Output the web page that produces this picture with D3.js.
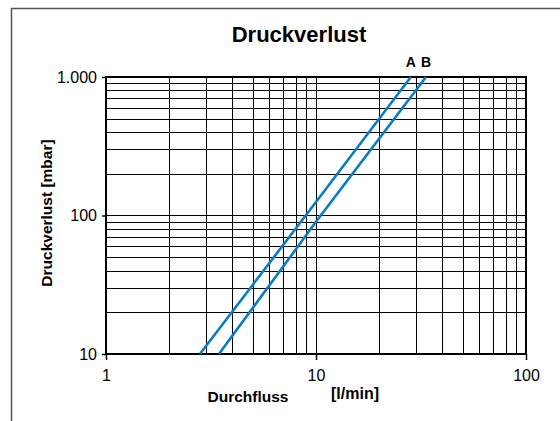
<!DOCTYPE html>
<html><head><meta charset="utf-8">
<script src="https://cdn.jsdelivr.net/npm/d3@7"></script>
<style>
html,body{margin:0;padding:0;background:#fff;}
svg{display:block;font-family:"Liberation Sans",Arial,sans-serif;}
</style></head>
<body><svg id="c" width="560" height="421"></svg>
<script>
const title = "Druckverlust";
const xTickValues = [1, 10, 100];
const xTickLabels = ["1", "10", "100"];
const yTickValues = [10, 100, 1000];
const yTickLabels = ["10", "100", "1.000"];
const seriesNames = ["A", "B"];
const flowA = [2.8, 10, 28.3];
const lossA = [10, 125, 1000];
const flowB = [3.45, 10, 33.4];
const lossB = [10, 90, 1000];

const svg = d3.select("#c");
const L = 106, R = 526, T = 77, B = 354;
const x = d3.scaleLog().domain([1, 100]).range([L, R]);
const y = d3.scaleLog().domain([10, 1000]).range([B, T]);

// outer frame (top + left)
svg.append("path").attr("d", `M11.5,421 V8.5 H560`).attr("fill","none")
  .attr("stroke","#555").attr("stroke-width",1.5);

// grid
const xGrid = [];
for (let d = 1; d < 100; d *= 10) for (let k = 1; k <= 10; k++) xGrid.push(d*k);
const yGrid = [];
for (let d = 10; d < 1000; d *= 10) for (let k = 1; k <= 10; k++) yGrid.push(d*k);
const g = svg.append("g").attr("shape-rendering","crispEdges");
g.selectAll(".vx").data(xGrid).join("line")
  .attr("x1", d=>Math.round(x(d))+0.5).attr("x2", d=>Math.round(x(d))+0.5)
  .attr("y1", T).attr("y2", B).attr("stroke","#000").attr("stroke-width",1);
g.selectAll(".hy").data(yGrid).join("line")
  .attr("y1", d=>Math.round(y(d))+0.5).attr("y2", d=>Math.round(y(d))+0.5)
  .attr("x1", L).attr("x2", R).attr("stroke","#000").attr("stroke-width",1);

// axes
const xAxis = d3.axisBottom(x).tickValues(xTickValues).tickFormat((d,i)=>xTickLabels[i]).tickSize(6).tickPadding(10);
const yAxis = d3.axisLeft(y).tickValues(yTickValues).tickFormat((d,i)=>yTickLabels[i]).tickSize(4).tickPadding(5);
const gx = svg.append("g").attr("transform",`translate(0,${B})`).call(xAxis);
const gy = svg.append("g").attr("transform",`translate(${L},0)`).call(yAxis);
[gx, gy].forEach(a=>{
  a.select(".domain").remove();
  a.selectAll("line").attr("stroke","#000").attr("stroke-width",1.5);
  a.selectAll("text").attr("font-size",16).attr("fill","#000")
    .attr("font-family","'Liberation Sans',Arial,sans-serif");
});

// plot border
svg.append("rect").attr("x",L).attr("y",T).attr("width",R-L).attr("height",B-T)
  .attr("fill","none").attr("stroke","#000").attr("stroke-width",2);

// series lines
const line = d3.line().x(d=>x(d[0])).y(d=>y(d[1]));
const series = [d3.zip(flowA, lossA), d3.zip(flowB, lossB)];
svg.append("g").selectAll("path").data(series).join("path")
  .attr("d", line).attr("fill","none").attr("stroke","#0a7cc4").attr("stroke-width",2.6);

// series labels
svg.selectAll(".sl").data(seriesNames).join("text")
  .attr("x",(d,i)=>x(series[i][series[i].length-1][0]))
  .attr("y", T-10).attr("text-anchor","middle")
  .attr("font-size",14).attr("font-weight","bold").text(d=>d);

// title
svg.append("text").attr("x",299).attr("y",42).attr("text-anchor","middle")
  .attr("font-size",22).attr("font-weight","bold").text(title);

// axis titles
svg.append("text").attr("x",248).attr("y",402).attr("text-anchor","middle")
  .attr("font-size",15.5).attr("font-weight","bold").text("Durchfluss");
svg.append("text").attr("x",355).attr("y",399).attr("text-anchor","middle")
  .attr("font-size",16).attr("font-weight","bold").text("[l/min]");
svg.append("text").attr("transform","translate(52,213) rotate(-90)").attr("text-anchor","middle")
  .attr("font-size",15.5).attr("font-weight","bold").text("Druckverlust [mbar]");
</script></body></html>
